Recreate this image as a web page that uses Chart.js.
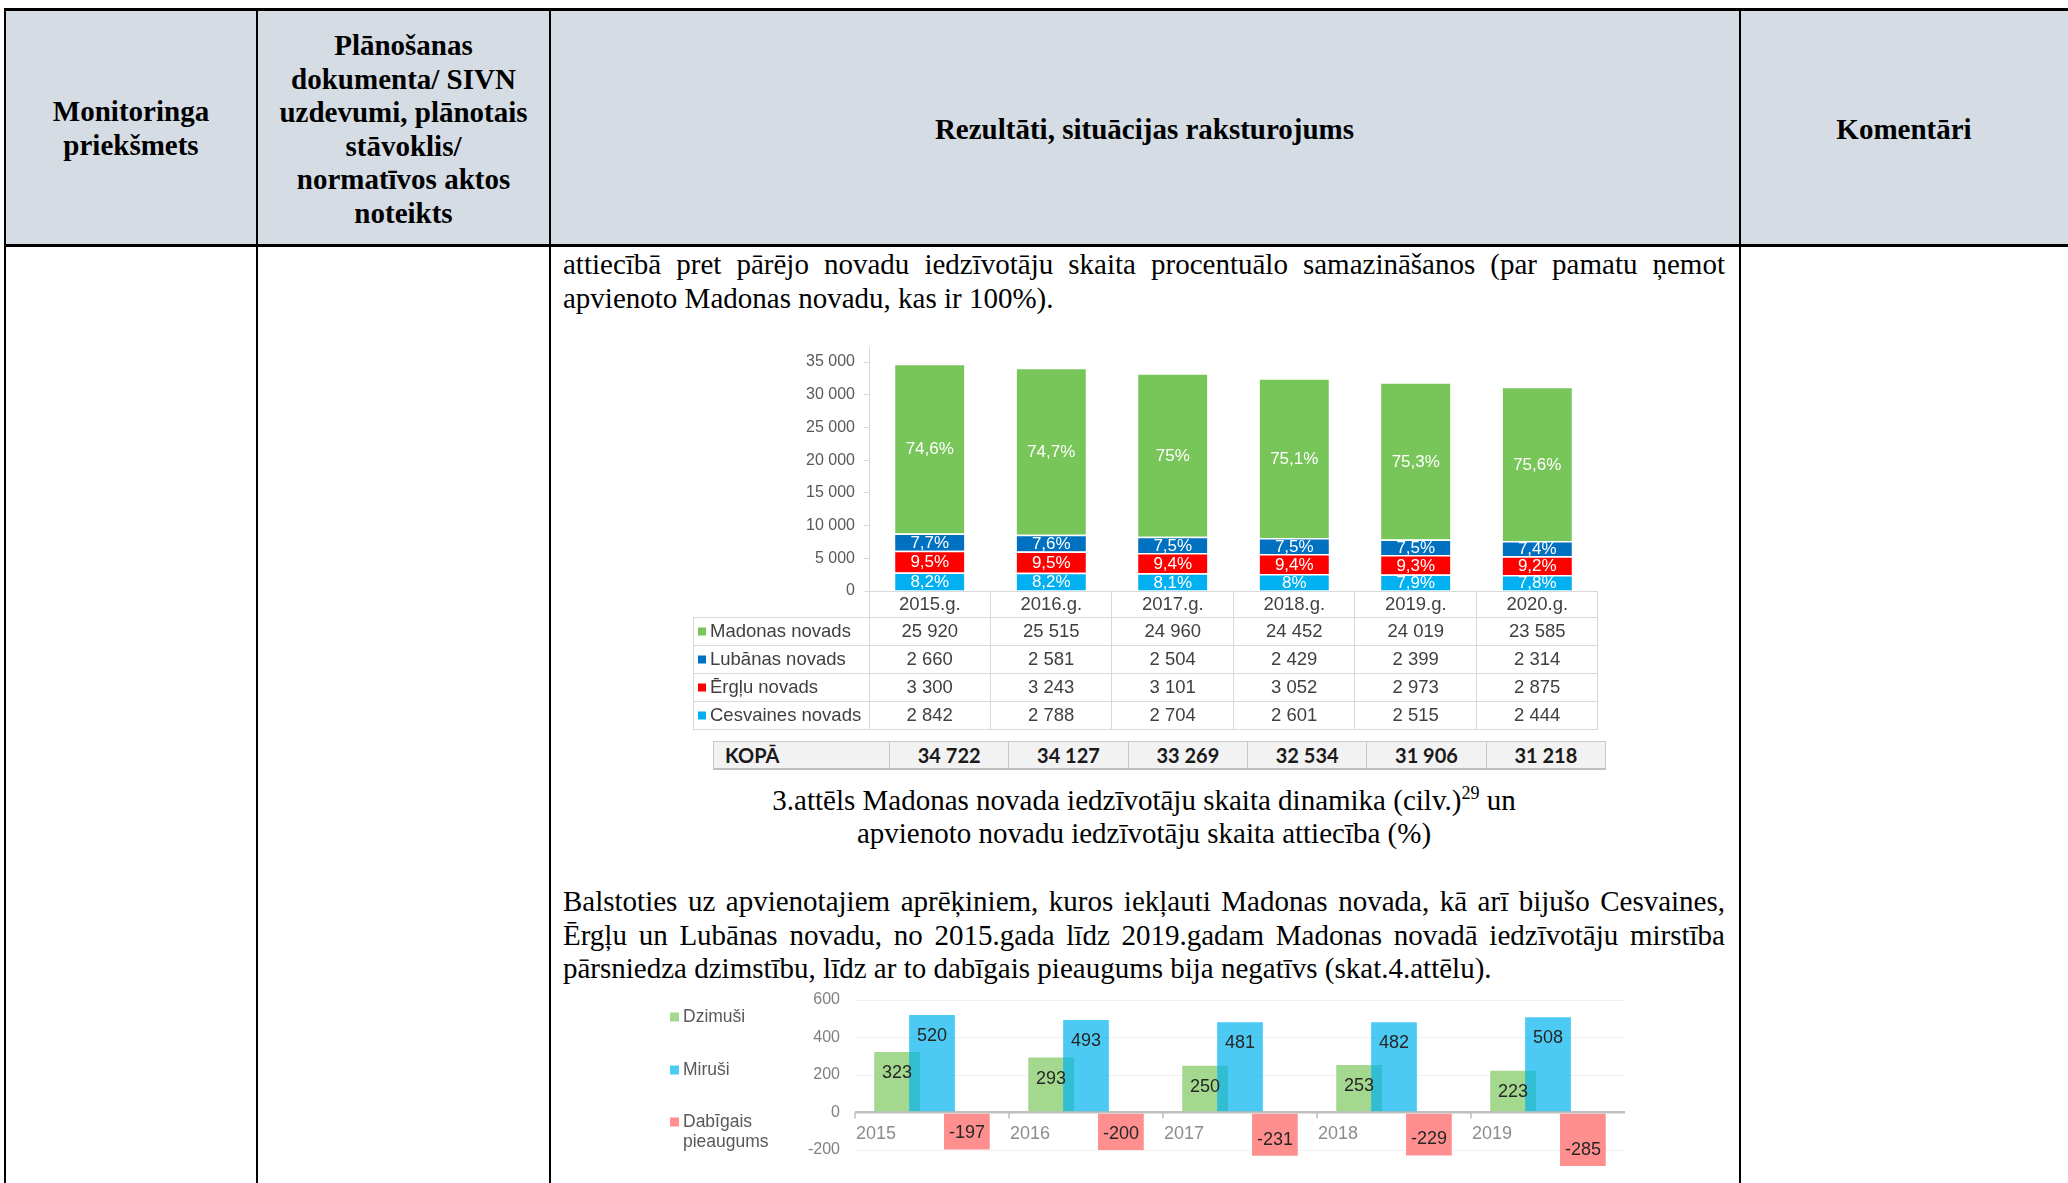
<!DOCTYPE html>
<html lang="lv">
<head>
<meta charset="utf-8">
<title>Madonas novada iedzīvotāju skaita dinamika</title>
<script src="https://cdn.jsdelivr.net/npm/chart.js@4.4.1/dist/chart.umd.min.js"></script>
<style>
  html, body { margin: 0; padding: 0; background: #fff; }
  body { width: 2068px; height: 1183px; overflow: hidden; position: relative;
         font-family: "Liberation Serif", "Times New Roman", serif; color: #000; }
  .hdr { position: absolute; left: 5px; top: 10px; width: 2063px; height: 235px; background: #d5dce4; }
  .rule { position: absolute; background: #000; }
  .ln { position: absolute; font-size: 29px; line-height: 33.6px; white-space: nowrap; }
  .b { font-weight: bold; }
  .c { text-align: center; }
  .ln sup { font-size: 18px; line-height: 0; vertical-align: 11px; }
  canvas { position: absolute; }
  #kopa { position: absolute; left: 713px; top: 741px; width: 893px; height: 29px; box-sizing: border-box;
          display: grid; grid-template-columns: 175px repeat(6, 1fr); background: #f2f2f2;
          border: 1px solid #c8c8c8; border-bottom: 2px solid #bdbdbd;
          font: bold 20px Lato, "Liberation Sans", sans-serif; color: #1a1a1a; }
  #kopa div { display: flex; align-items: center; justify-content: center; border-left: 1px solid #c8c8c8; }
  #kopa div:first-child { border-left: none; justify-content: flex-start; padding-left: 11px; }
</style>
</head>
<body>
<div class="hdr"></div>
<div class="rule" style="left:4px; top:8px; width:2064px; height:3px;"></div>
<div class="rule" style="left:4px; top:244px; width:2064px; height:3px;"></div>
<div class="rule" style="left:4px; top:8px; width:2px; height:1175px;"></div>
<div class="rule" style="left:256px; top:8px; width:2px; height:1175px;"></div>
<div class="rule" style="left:549px; top:8px; width:2px; height:1175px;"></div>
<div class="rule" style="left:1739px; top:8px; width:2px; height:1175px;"></div>

<div class="ln b c" style="left:5px; width:252px; top:95.4px;">Monitoringa</div>
<div class="ln b c" style="left:5px; width:252px; top:128.9px;">priekšmets</div>

<div class="ln b c" style="left:257px; width:293px; top:29.4px;">Plānošanas</div>
<div class="ln b c" style="left:257px; width:293px; top:62.9px;">dokumenta/ SIVN</div>
<div class="ln b c" style="left:257px; width:293px; top:96.4px;">uzdevumi, plānotais</div>
<div class="ln b c" style="left:257px; width:293px; top:129.9px;">stāvoklis/</div>
<div class="ln b c" style="left:257px; width:293px; top:163.4px;">normatīvos aktos</div>
<div class="ln b c" style="left:257px; width:293px; top:196.9px;">noteikts</div>

<div class="ln b c" style="left:550px; width:1189px; top:112.9px;">Rezultāti, situācijas raksturojums</div>
<div class="ln b c" style="left:1740px; width:328px; top:112.9px;">Komentāri</div>

<div class="ln j" style="left:563px; width:1162px; top:248.4px;"><span>attiecībā pret pārējo novadu iedzīvotāju skaita procentuālo samazināšanos (par pamatu ņemot</span></div>
<div class="ln" style="left:563px; top:282px;">apvienoto Madonas novadu, kas ir 100%).</div>

<canvas id="chart1" width="930" height="400" style="left:680px; top:340px;"></canvas>
<div id="kopa"></div>

<div class="ln c" style="left:563px; width:1162px; top:783.9px;">3.attēls Madonas novada iedzīvotāju skaita dinamika (cilv.)<sup>29</sup> un</div>
<div class="ln c" style="left:563px; width:1162px; top:817.4px;">apvienoto novadu iedzīvotāju skaita attiecība (%)</div>

<div class="ln j" style="left:563px; width:1162px; top:885.4px;"><span>Balstoties uz apvienotajiem aprēķiniem, kuros iekļauti Madonas novada, kā arī bijušo Cesvaines,</span></div>
<div class="ln j" style="left:563px; width:1162px; top:918.9px;"><span>Ērgļu un Lubānas novadu, no 2015.gada līdz 2019.gadam Madonas novadā iedzīvotāju mirstība</span></div>
<div class="ln" style="left:563px; top:952.4px;">pārsniedza dzimstību, līdz ar to dabīgais pieaugums bija negatīvs (skat.4.attēlu).</div>

<canvas id="chart2" width="990" height="220" style="left:650px; top:980px;"></canvas>

<script>
// 3.attēls - iedzīvotāju skaits
const years = ['2015.g.', '2016.g.', '2017.g.', '2018.g.', '2019.g.', '2020.g.'];
const madonas = [25920, 25515, 24960, 24452, 24019, 23585];
const lubanas = [2660, 2581, 2504, 2429, 2399, 2314];
const erglu = [3300, 3243, 3101, 3052, 2973, 2875];
const cesvaines = [2842, 2788, 2704, 2601, 2515, 2444];
const kopa = [34722, 34127, 33269, 32534, 31906, 31218];
const madonasPct = ['74,6%', '74,7%', '75%', '75,1%', '75,3%', '75,6%'];
const lubanasPct = ['7,7%', '7,6%', '7,5%', '7,5%', '7,5%', '7,4%'];
const ergluPct = ['9,5%', '9,5%', '9,4%', '9,4%', '9,3%', '9,2%'];
const cesvainesPct = ['8,2%', '8,2%', '8,1%', '8%', '7,9%', '7,8%'];

// 4.attēls - dzimušie / mirušie
const gadi = ['2015', '2016', '2017', '2018', '2019'];
const dzimusi = [323, 293, 250, 253, 223];
const mirusi = [520, 493, 481, 482, 508];
const pieaugums = [-197, -200, -231, -229, -285];

const fmt = v => String(v).replace(/\B(?=(\d{3})+(?!\d))/g, ' ');

// data table rows, top to bottom
const tableRows = [
    { label: 'Madonas novads', color: '#78c65a', data: madonas, pct: madonasPct },
    { label: 'Lubānas novads', color: '#0070c0', data: lubanas, pct: lubanasPct },
    { label: 'Ērgļu novads', color: '#ff0000', data: erglu, pct: ergluPct },
    { label: 'Cesvaines novads', color: '#00b0f0', data: cesvaines, pct: cesvainesPct }
];

document.getElementById('kopa').innerHTML =
    '<div>KOPĀ</div>' + kopa.map(v => '<div>' + fmt(v) + '</div>').join('');

const dataTable = {
    id: 'dataTable',
    afterDraw(chart) {
        const { ctx, chartArea: a, scales: { x } } = chart;
        const n = years.length;
        const cw = (a.right - a.left) / n;
        const rows = [0, 26, 54, 82, 110, 138].map(o => a.bottom + o);
        const tableLeft = a.left - 176;
        ctx.save();
        ctx.strokeStyle = '#d9d9d9';
        ctx.lineWidth = 1;
        ctx.beginPath();
        ctx.moveTo(a.left + 0.5, a.top - 15);
        ctx.lineTo(a.left + 0.5, rows[5]);
        for (let i = 1; i <= n; i++) {
            const xx = Math.round(a.left + cw * i) - 0.5;
            ctx.moveTo(xx, a.bottom);
            ctx.lineTo(xx, rows[5]);
        }
        ctx.moveTo(a.left, a.bottom + 0.5);
        ctx.lineTo(a.right, a.bottom + 0.5);
        for (let r = 1; r <= 5; r++) {
            ctx.moveTo(tableLeft, rows[r] + 0.5);
            ctx.lineTo(a.right, rows[r] + 0.5);
        }
        ctx.moveTo(tableLeft + 0.5, rows[1]);
        ctx.lineTo(tableLeft + 0.5, rows[5]);
        ctx.stroke();

        ctx.font = '18.5px "Liberation Sans"';
        ctx.textBaseline = 'middle';
        ctx.textAlign = 'center';
        ctx.fillStyle = '#404040';
        years.forEach((y, i) => ctx.fillText(y, x.getPixelForValue(i), (rows[0] + rows[1]) / 2 + 1));
        tableRows.forEach((row, r) => {
            const cy = (rows[r + 1] + rows[r + 2]) / 2 + 1;
            ctx.textAlign = 'center';
            ctx.fillStyle = '#404040';
            row.data.forEach((v, i) => ctx.fillText(fmt(v), x.getPixelForValue(i), cy));
            ctx.fillStyle = row.color;
            ctx.fillRect(tableLeft + 5, cy - 4.5, 8, 8);
            ctx.textAlign = 'left';
            ctx.fillStyle = '#404040';
            ctx.fillText(row.label, tableLeft + 17, cy);
        });

        ctx.font = '17px "Liberation Sans"';
        ctx.fillStyle = '#ffffff';
        ctx.textAlign = 'center';
        chart.data.datasets.forEach((ds, d) => {
            chart.getDatasetMeta(d).data.forEach((el, i) => {
                ctx.fillText(ds.pct[i], el.x, (el.y + el.base) / 2 + 1);
            });
        });
        ctx.restore();
    }
};

new Chart(document.getElementById('chart1'), {
    type: 'bar',
    data: {
        labels: years,
        datasets: tableRows.slice().reverse().map(r => ({
            label: r.label,
            data: r.data,
            pct: r.pct,
            backgroundColor: r.color,
            borderColor: '#ffffff',
            borderWidth: { top: 1.5, right: 0, bottom: 0, left: 0 }
        }))
    },
    options: {
        responsive: false,
        animation: false,
        layout: { padding: { left: 0, right: 12, top: 22, bottom: 149 } },
        plugins: { legend: { display: false }, tooltip: { enabled: false } },
        datasets: { bar: { categoryPercentage: 1, barPercentage: 0.57 } },
        scales: {
            x: { display: false, stacked: true },
            y: {
                stacked: true,
                min: 0,
                max: 35000,
                ticks: {
                    stepSize: 5000,
                    padding: 9,
                    color: '#595959',
                    font: { family: 'Liberation Sans', size: 16 },
                    callback: v => fmt(v)
                },
                grid: { drawOnChartArea: false, drawTicks: true, tickLength: 5, color: '#d9d9d9' },
                border: { display: false },
                afterFit: s => { s.width = 189; }
            }
        }
    },
    plugins: [dataTable]
});

// blue bars are drawn over the green ones
const drawInOrder = {
    id: 'drawInOrder',
    beforeDatasetsDraw(chart) {
        chart.data.datasets.forEach((ds, i) => chart.getDatasetMeta(i).controller.draw());
        return false;
    }
};

const chart2Extras = {
    id: 'chart2Extras',
    afterDraw(chart) {
        const { ctx, chartArea: a, scales: { y } } = chart;
        const n = gadi.length;
        const cw = (a.right - a.left) / n;
        const y0 = y.getPixelForValue(0);
        ctx.save();
        ctx.strokeStyle = '#bfbfbf';
        ctx.lineWidth = 1.5;
        ctx.beginPath();
        for (let i = 0; i < n; i++) {
            const xx = Math.round(a.left + cw * i);
            ctx.moveTo(xx, y0);
            ctx.lineTo(xx, y0 + 6);
        }
        ctx.stroke();

        ctx.textBaseline = 'middle';
        ctx.font = '18px "Liberation Sans"';
        ctx.fillStyle = '#8c8c8c';
        ctx.textAlign = 'left';
        gadi.forEach((g, i) => ctx.fillText(g, a.left + cw * i + 1, y0 + 22));

        ctx.fillStyle = '#262626';
        ctx.textAlign = 'center';
        chart.data.datasets.forEach((ds, d) => {
            chart.getDatasetMeta(d).data.forEach((el, i) => {
                const v = ds.data[i];
                ctx.fillText(String(v), el.x, v >= 0 ? el.y + 21 : el.y - 16);
            });
        });

        // legend on the left
        ctx.font = '17.5px "Liberation Sans"';
        ctx.textAlign = 'left';
        const legendY = [37, 90, 142];
        chart.data.datasets.forEach((ds, d) => {
            const ly = legendY[d];
            ctx.fillStyle = ds.legendColor;
            ctx.fillRect(20, ly - 4.5, 9, 9);
            ctx.fillStyle = '#595959';
            ds.label.split(' ').forEach((w, k) => ctx.fillText(w, 33, ly + k * 20));
        });
        ctx.restore();
    }
};

new Chart(document.getElementById('chart2'), {
    type: 'bar',
    data: {
        labels: gadi,
        datasets: [
            { label: 'Dzimuši', data: dzimusi, backgroundColor: '#a4d88e', legendColor: '#a4d88e' },
            { label: 'Miruši', data: mirusi, backgroundColor: 'rgba(0, 180, 240, 0.7)', legendColor: '#4dcbf5' },
            { label: 'Dabīgais pieaugums', data: pieaugums, backgroundColor: '#ff8f8f', legendColor: '#ff8f8f' }
        ]
    },
    options: {
        responsive: false,
        animation: false,
        layout: { padding: { left: 0, right: 15, top: 20, bottom: 12.5 } },
        plugins: { legend: { display: false }, tooltip: { enabled: false } },
        datasets: { bar: { categoryPercentage: 0.68, barPercentage: 1.31 } },
        scales: {
            x: { display: false },
            y: {
                min: -400,
                max: 600,
                ticks: {
                    stepSize: 200,
                    padding: 0,
                    color: '#7f7f7f',
                    font: { family: 'Liberation Sans', size: 16 },
                    callback: v => (v === -400 ? '' : v)
                },
                grid: {
                    drawTicks: true,
                    tickLength: 15,
                    tickColor: 'rgba(0, 0, 0, 0)',
                    color: c => (c.tick.value === 0 ? '#bfbfbf' : '#f0f0f0'),
                    lineWidth: c => (c.tick.value === 0 ? 2.5 : 1)
                },
                border: { display: false },
                afterFit: s => { s.width = 205; }
            }
        }
    },
    plugins: [drawInOrder, chart2Extras]
});

// justified lines: spread the words to the full column width
document.fonts.ready.then(() => {
    document.querySelectorAll('.j').forEach(el => {
        const span = el.firstElementChild;
        const natural = span.getBoundingClientRect().width;
        const gaps = (span.textContent.match(/ /g) || []).length;
        span.style.wordSpacing = ((el.clientWidth - natural) / gaps) + 'px';
    });
});
</script>
</body>
</html>
